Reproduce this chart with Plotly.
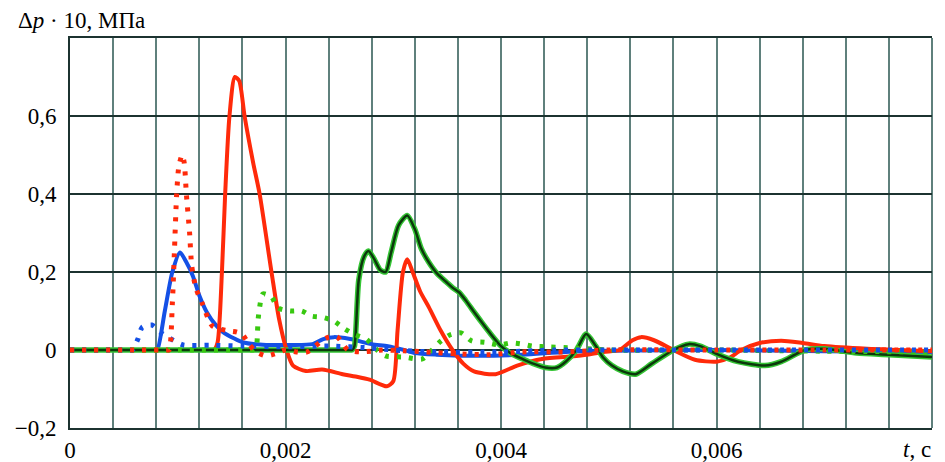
import plotly.graph_objects as go

# time in ms (axis labels shown in seconds), pressure Δp·10 in MPa
red_t = [0, 1.0, 1.28, 1.30, 1.34, 1.37, 1.41, 1.44, 1.48, 1.53, 1.57, 1.62, 1.70, 1.76, 1.87, 1.94, 2.01, 2.07, 2.19,
         2.34, 2.53, 2.65, 2.78, 2.94, 3.0, 3.04, 3.09, 3.13, 3.18, 3.25, 3.33, 3.44, 3.55, 3.65, 3.75,
         3.95, 4.15, 4.38, 4.72, 4.95, 5.1, 5.22, 5.3, 5.42, 5.6, 5.8, 6.0, 6.12, 6.23, 6.4, 6.6, 6.8,
         7.0, 7.4, 7.7, 8.0]
red_y = [0, 0, 0, 0, 0.002, 0.02, 0.2, 0.4, 0.6, 0.70, 0.69, 0.6, 0.48, 0.40, 0.20, 0.08, 0.0, -0.04, -0.054,
         -0.05, -0.062, -0.068, -0.076, -0.093, -0.08, 0.05, 0.2, 0.233, 0.2, 0.15, 0.11, 0.05, 0.0, -0.035, -0.055,
         -0.062, -0.04, -0.023, -0.015, -0.005, 0.0, 0.025, 0.033, 0.025, 0.0, -0.025, -0.03, -0.02, 0.0, 0.018, 0.024, 0.018,
         0.01, 0.003, 0.0, -0.003]

red_dot_t = [0, 0.6, 0.90, 0.92, 0.95, 0.97, 0.99, 1.01, 1.04, 1.06, 1.08, 1.11, 1.13, 1.17, 1.23, 1.32, 1.45, 1.55,
             1.6, 1.66, 1.73, 1.82, 1.9, 2.0, 2.1, 2.2, 2.32, 2.4, 2.48, 2.58, 2.7, 2.9, 3.1, 3.3, 3.6,
             3.9, 4.2, 4.6, 5.0, 6.0, 7.0, 8.0]
red_dot_y = [0, 0, 0, 0, 0.12, 0.26, 0.40, 0.47, 0.50, 0.48, 0.40, 0.30, 0.215, 0.157, 0.118, 0.062, 0.05, 0.046,
             0.04, 0.015, -0.005, -0.015, -0.01, 0.0, -0.005, -0.005, 0.02, 0.033, 0.033, 0.0, -0.005, 0.0, -0.002, -0.005, -0.01,
             -0.012, -0.005, -0.005, 0.0, 0.0, 0.0, 0.0]

blue_t = [0, 0.5, 0.79, 0.81, 0.88, 0.95, 1.02, 1.08, 1.14, 1.2, 1.27, 1.35, 1.42, 1.52, 1.6, 1.82, 2.05, 2.25, 2.35,
          2.45, 2.6, 2.8, 2.95, 3.1, 3.2, 3.4, 3.8, 4.2, 4.6, 5.0, 6.0, 7.0, 8.0]
blue_y = [0, 0, 0, 0, 0.1, 0.2, 0.25, 0.225, 0.19, 0.14, 0.097, 0.065, 0.046, 0.03, 0.02, 0.013, 0.013, 0.015, 0.028,
          0.033, 0.028, 0.015, 0.01, 0.0, -0.008, -0.012, -0.015, -0.012, -0.005, -0.002, 0.0, -0.003, -0.005]

blue_dot_t = [0, 0.3, 0.56, 0.58, 0.63, 0.67, 0.76, 0.84, 0.94, 1.05, 1.3, 1.6, 2.0, 2.4, 2.8, 3.0, 3.4, 4.0, 4.5, 5.0, 8.0]
blue_dot_y = [0, 0, 0, 0, 0.028, 0.058, 0.064, 0.045, 0.028, 0.013, 0.012, 0.01, 0.008, 0.01, 0.005, 0.0, -0.005, -0.005, 0.0, 0.0, 0.0]

green_t = [0, 1.5, 2.60, 2.62, 2.64, 2.68, 2.73, 2.77, 2.82, 2.88, 2.93, 2.98, 3.05, 3.13, 3.2, 3.26, 3.33, 3.41, 3.49,
           3.55, 3.61, 3.67, 3.73, 3.81, 3.89, 4.0, 4.1, 4.2, 4.3, 4.41, 4.52, 4.6, 4.7, 4.79, 4.88, 4.95,
           5.03, 5.13, 5.25, 5.4, 5.6, 5.74, 5.85, 6.0, 6.2, 6.45, 6.6, 6.82, 7.0, 7.3, 7.6, 8.0]
green_y = [0, 0, 0, 0, 0.01, 0.18, 0.24, 0.254, 0.235, 0.205, 0.2, 0.25, 0.32, 0.345, 0.31, 0.26, 0.225, 0.195, 0.175,
           0.16, 0.148, 0.128, 0.105, 0.075, 0.046, 0.01, -0.01, -0.023, -0.035, -0.045, -0.045, -0.03, 0.0, 0.041, 0.01, -0.02,
           -0.04, -0.055, -0.062, -0.035, 0.0, 0.015, 0.01, -0.01, -0.03, -0.04, -0.03, 0.0, 0.003, -0.008, -0.012, -0.018]

green_dot_t = [0, 1.0, 1.68, 1.70, 1.73, 1.74, 1.745, 1.76, 1.79, 1.87, 1.93, 2.04, 2.15, 2.24, 2.34, 2.45, 2.55, 2.64,
               2.75, 2.85, 2.93, 3.1, 3.27, 3.36, 3.43, 3.52, 3.63, 3.73, 3.85, 3.98, 4.09, 4.2, 4.29, 4.45,
               4.7, 5.0, 6.0, 7.0, 8.0]
green_dot_y = [0, 0, 0, 0, 0.01, 0.046, 0.075, 0.11, 0.144, 0.136, 0.108, 0.10, 0.1, 0.087, 0.084, 0.074, 0.054, 0.04,
               0.028, 0.0, -0.015, -0.018, -0.023, 0.0, 0.02, 0.038, 0.044, 0.023, 0.02, 0.013, 0.018, 0.015, 0.01, 0.008,
               0.005, 0.0, 0.0, -0.003, -0.005]

x_tickvals = [round(0.4 * i, 1) for i in range(21)]
x_ticktext = ["0", "", "", "", "", "0,002", "", "", "", "", "0,004", "", "", "", "", "0,006", "", "", "", "", ""]
y_tickvals = [-0.2, 0, 0.2, 0.4, 0.6, 0.8]
y_ticktext = ["−0,2", "0", "0,2", "0,4", "0,6", ""]
y_title = "Δ<i>p</i> · 10, МПа"
x_title = "<i>t</i>, c"

RED = "#ff2a0a"
BLUE = "#1450e6"
GREEN_DOT = "#38c810"
FONT = "Liberation Serif"
DARK = "#1c3330"
GRID_V = "#5f807c"

fig = go.Figure()
sm = 0.7
fig.add_trace(go.Scatter(x=blue_t, y=blue_y, mode="lines",
                         line=dict(color=BLUE, width=4, shape="spline", smoothing=sm)))
fig.add_trace(go.Scatter(x=red_t, y=red_y, mode="lines",
                         line=dict(color=RED, width=4, shape="spline", smoothing=sm)))
fig.add_trace(go.Scatter(x=green_t, y=green_y, mode="lines",
                         line=dict(color="#35c535", width=5.5, shape="spline", smoothing=sm)))
fig.add_trace(go.Scatter(x=green_t, y=green_y, mode="lines",
                         line=dict(color="#0c380c", width=2.5, shape="spline", smoothing=sm)))
fig.add_trace(go.Scatter(x=green_dot_t, y=green_dot_y, mode="lines",
                         line=dict(color=GREEN_DOT, width=5, dash="4px,8px", shape="spline", smoothing=sm)))
fig.add_trace(go.Scatter(x=blue_dot_t, y=blue_dot_y, mode="lines",
                         line=dict(color=BLUE, width=5, dash="4px,8px", shape="spline", smoothing=sm)))
fig.add_trace(go.Scatter(x=red_dot_t, y=red_dot_y, mode="lines",
                         line=dict(color=RED, width=5, dash="4px,8px", shape="spline", smoothing=sm)))

fig.update_layout(
    width=937, height=454,
    margin=dict(l=62, r=13, t=30, b=34, autoexpand=False),
    paper_bgcolor="white", plot_bgcolor="white",
    showlegend=False,
    font=dict(family=FONT, size=23, color="black"),
    xaxis=dict(range=[0, 8.0], tickvals=x_tickvals, ticktext=x_ticktext,
               showgrid=True, gridcolor=GRID_V, gridwidth=2, automargin=False,
               zeroline=False, showline=True, linecolor=DARK, linewidth=2,
               mirror=True, ticks="", ticklabelstandoff=0),
    yaxis=dict(range=[-0.2, 0.8], tickvals=y_tickvals, ticktext=y_ticktext,
               showgrid=True, gridcolor=DARK, gridwidth=2, automargin=False,
               zeroline=False, showline=True, linecolor=DARK, linewidth=2,
               ticks="", ticklabelstandoff=7),
    shapes=[dict(type="line", xref="paper", yref="paper", x0=1, x1=1, y0=0, y1=1,
                 line=dict(color=GRID_V, width=2), layer="below")],
    annotations=[
        dict(text=y_title, xref="paper", yref="paper", x=-0.061, y=1.044,
             xanchor="left", yanchor="middle", showarrow=False, borderpad=0,
             font=dict(family=FONT, size=23, color="black")),
        dict(text=x_title, xref="x", yref="paper", x=7.86, y=-0.056,
             xanchor="center", yanchor="middle", showarrow=False, borderpad=0,
             font=dict(family=FONT, size=23, color="black")),
    ],
)

fig.write_html("out.html")
